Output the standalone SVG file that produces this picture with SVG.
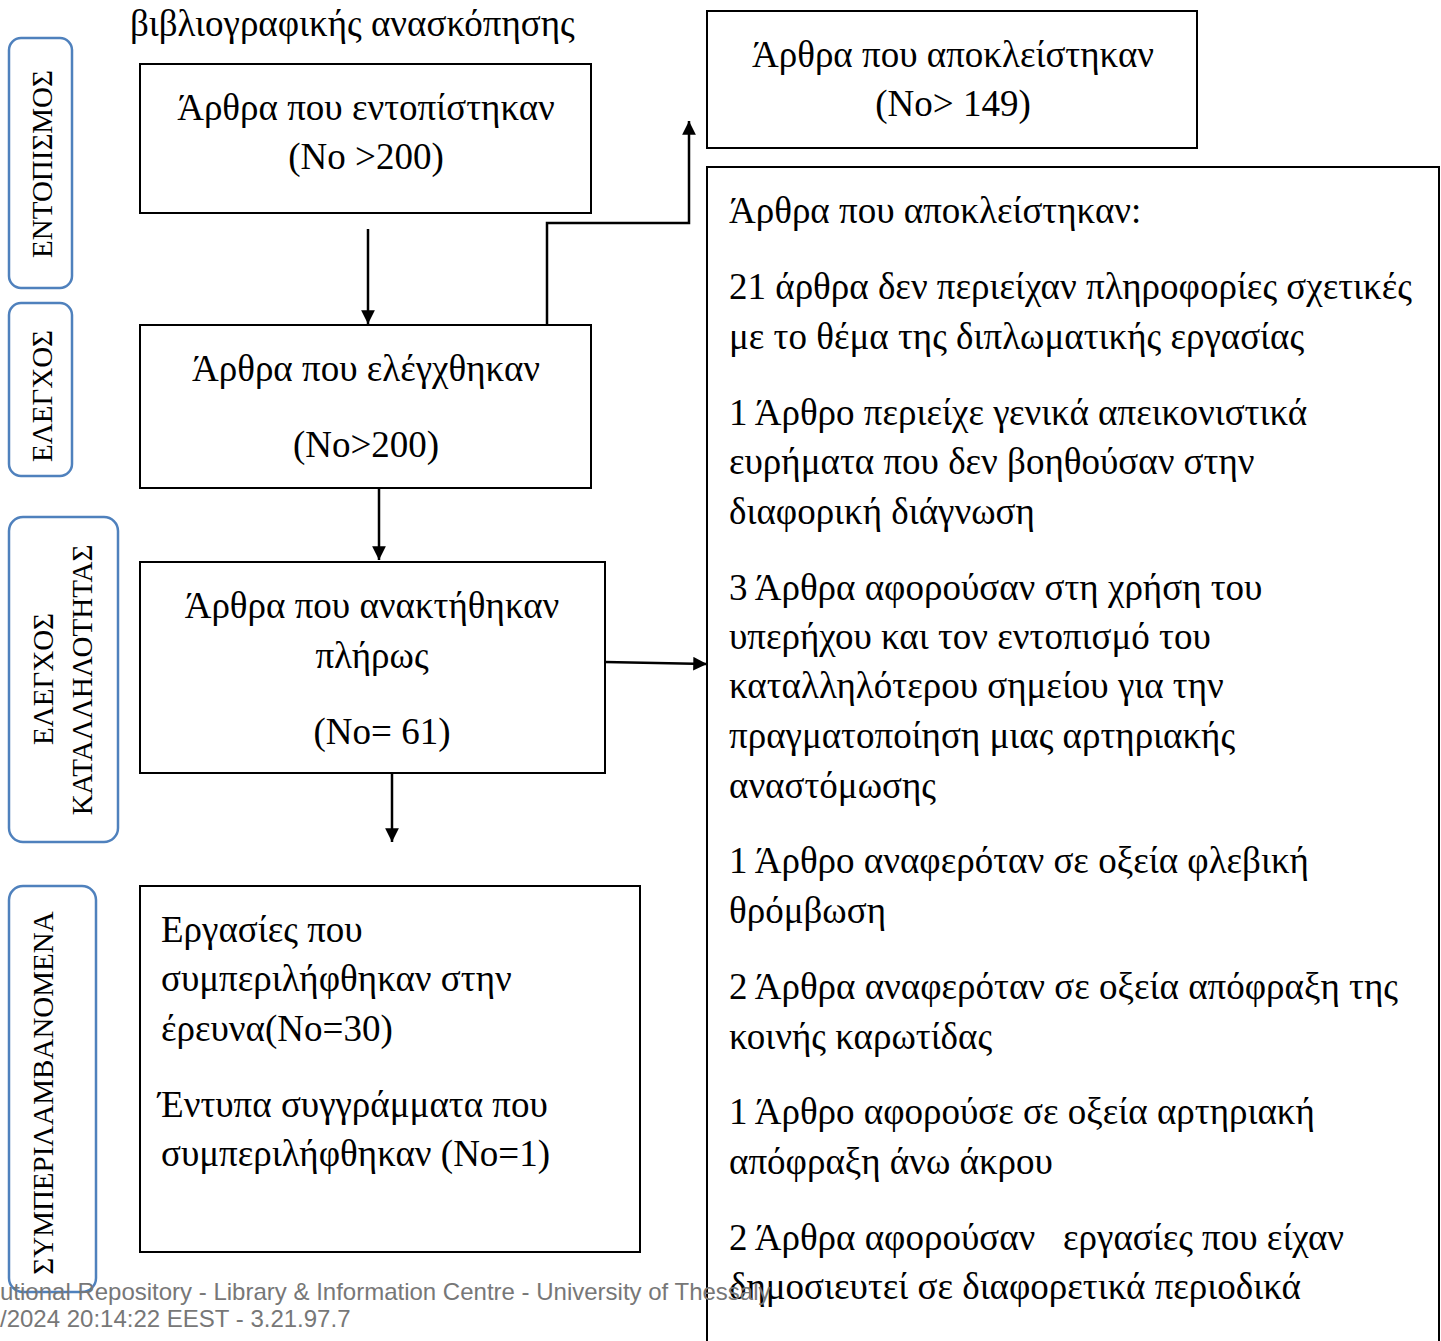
<svg xmlns="http://www.w3.org/2000/svg" width="1441" height="1341" viewBox="0 0 1441 1341">
<style>
.box{fill:#fff;stroke:#000;stroke-width:2}
.lbl{fill:#fff;stroke:#4f81bd;stroke-width:2.5}
.t{font-family:"Liberation Serif","Times New Roman",serif;font-size:37px;fill:#000}
.c{text-anchor:middle}
.v{font-family:"Liberation Serif","Times New Roman",serif;font-size:29px;fill:#000;text-anchor:middle}
.wm{font-family:"Liberation Sans",Arial,sans-serif;font-size:24px;fill:#777}
.ln{fill:none;stroke:#000;stroke-width:2.5}
</style>
<defs>
<marker id="ah" viewBox="0 0 10 10" refX="10" refY="5" markerWidth="5.5" markerHeight="5.5" markerUnits="strokeWidth" orient="auto">
<path d="M0,0 L10,5 L0,10 z" fill="#000"/>
</marker>
</defs>
<rect width="1441" height="1341" fill="#fff"/>

<text class="t" x="130" y="36">βιβλιογραφικής ανασκόπησης</text>

<g id="lbl-entopismos">
<rect class="lbl" x="9" y="38" width="63" height="250" rx="12"/>
<text class="v" transform="translate(52,164) rotate(-90)">ΕΝΤΟΠΙΣΜΟΣ</text>
</g>
<g id="lbl-elegxos">
<rect class="lbl" x="9" y="303" width="63" height="173" rx="12"/>
<text class="v" transform="translate(52,396) rotate(-90)">ΕΛΕΓΧΟΣ</text>
</g>
<g id="lbl-katallilotita">
<rect class="lbl" x="9" y="517" width="109" height="325" rx="14"/>
<text class="v" transform="translate(53,679) rotate(-90)">ΕΛΕΓΧΟΣ</text>
<text class="v" transform="translate(92,680) rotate(-90)">ΚΑΤΑΛΛΗΛΟΤΗΤΑΣ</text>
</g>
<g id="lbl-symperilamvanomena">
<rect class="lbl" x="9" y="886" width="87" height="406" rx="14"/>
<text class="v" transform="translate(53,1093) rotate(-90)">ΣΥΜΠΕΡΙΛΑΜΒΑΝΟΜΕΝΑ</text>
</g>

<g id="n-identified">
<rect class="box" x="140" y="64" width="451" height="149"/>
<text class="t c" x="366" y="120">Άρθρα που εντοπίστηκαν</text>
<text class="t c" x="366" y="169">(No &gt;200)</text>
</g>
<g id="n-screened">
<rect class="box" x="140" y="325" width="451" height="163"/>
<text class="t c" x="366" y="381">Άρθρα που ελέγχθηκαν</text>
<text class="t c" x="366" y="457">(No&gt;200)</text>
</g>
<g id="n-excluded-top">
<rect class="box" x="707" y="11" width="490" height="137"/>
<text class="t c" x="953" y="67">Άρθρα που αποκλείστηκαν</text>
<text class="t c" x="953" y="116">(No&gt; 149)</text>
</g>
<g id="n-retrieved">
<rect class="box" x="140" y="562" width="465" height="211"/>
<text class="t c" x="372" y="618">Άρθρα που ανακτήθηκαν</text>
<text class="t c" x="372" y="668">πλήρως</text>
<text class="t c" x="382" y="744">(No= 61)</text>
</g>
<g id="n-included">
<rect class="box" x="140" y="886" width="500" height="366"/>
<text class="t" x="161" y="942">Εργασίες που</text>
<text class="t" x="161" y="991">συμπεριλήφθηκαν στην</text>
<text class="t" x="161" y="1041">έρευνα(No=30)</text>
<text class="t" x="158" y="1117">Έντυπα συγγράμματα που</text>
<text class="t" x="161" y="1166">συμπεριλήφθηκαν (No=1)</text>
</g>
<g id="n-excluded-reasons">
<rect class="box" x="707" y="167" width="732" height="1190"/>
<text class="t" x="729" y="223">Άρθρα που αποκλείστηκαν:</text>
<text class="t" x="729" y="299">21 άρθρα δεν περιείχαν πληροφορίες σχετικές</text>
<text class="t" x="729" y="349">με το θέμα της διπλωματικής εργασίας</text>
<text class="t" x="729" y="425">1 Άρθρο περιείχε γενικά απεικονιστικά</text>
<text class="t" x="729" y="474">ευρήματα που δεν βοηθούσαν στην</text>
<text class="t" x="729" y="524">διαφορική διάγνωση</text>
<text class="t" x="729" y="600">3 Άρθρα αφορούσαν στη χρήση του</text>
<text class="t" x="729" y="649">υπερήχου και τον εντοπισμό του</text>
<text class="t" x="729" y="698">καταλληλότερου σημείου για την</text>
<text class="t" x="729" y="748">πραγματοποίηση μιας αρτηριακής</text>
<text class="t" x="729" y="798">αναστόμωσης</text>
<text class="t" x="729" y="873">1 Άρθρο αναφερόταν σε οξεία φλεβική</text>
<text class="t" x="729" y="923">θρόμβωση</text>
<text class="t" x="729" y="999">2 Άρθρα αναφερόταν σε οξεία απόφραξη της</text>
<text class="t" x="729" y="1049">κοινής καρωτίδας</text>
<text class="t" x="729" y="1124">1 Άρθρο αφορούσε σε οξεία αρτηριακή</text>
<text class="t" x="729" y="1174">απόφραξη άνω άκρου</text>
<text class="t" x="729" y="1250" xml:space="preserve">2 Άρθρα αφορούσαν   εργασίες που είχαν</text>
<text class="t" x="729" y="1299">δημοσιευτεί σε διαφορετικά περιοδικά</text>
</g>

<g id="connectors">
<line class="ln" x1="368" y1="229" x2="368" y2="324" marker-end="url(#ah)"/>
<line class="ln" x1="379" y1="488" x2="379" y2="560" marker-end="url(#ah)"/>
<line class="ln" x1="392" y1="773" x2="392" y2="842" marker-end="url(#ah)"/>
<line class="ln" x1="605" y1="662" x2="707" y2="664" marker-end="url(#ah)"/>
<polyline class="ln" points="547,325 547,223 689,223 689,121" marker-end="url(#ah)"/>
</g>

<g id="watermark">
<text class="wm" x="0" y="1300">utional Repository - Library &amp; Information Centre - University of Thessaly</text>
<text class="wm" x="0" y="1327">/2024 20:14:22 EEST - 3.21.97.7</text>
</g>
</svg>
